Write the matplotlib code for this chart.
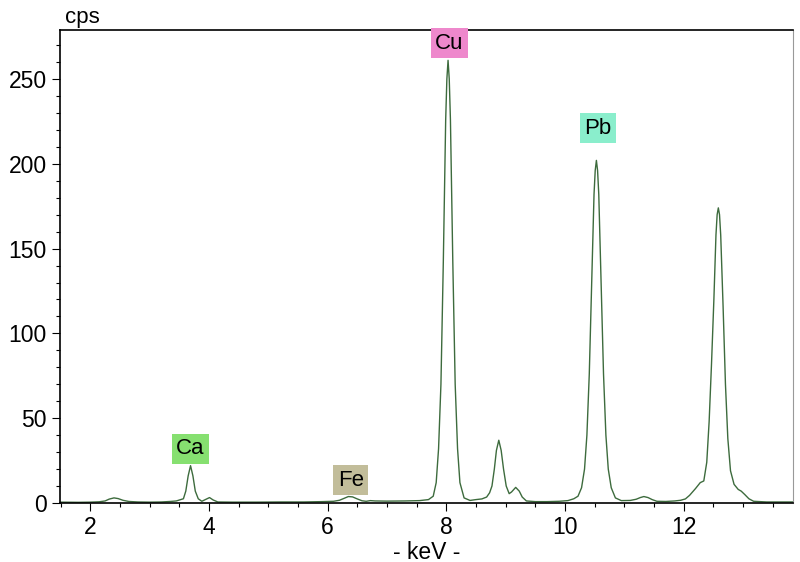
import numpy as np
import matplotlib
matplotlib.use('Agg')
import matplotlib.pyplot as plt
from matplotlib.ticker import MultipleLocator

plt.rcParams['font.family'] = ['Liberation Sans', 'DejaVu Sans']

# Spectrum (energy in keV, counts in cps)
energy = [1.5, 1.8, 2.0, 2.15, 2.25, 2.32, 2.4, 2.47, 2.55, 2.65, 2.8, 3.0, 3.2, 3.35, 3.45,
          3.57, 3.61, 3.65, 3.69, 3.73, 3.77, 3.82, 3.88, 3.95, 4.01, 4.07, 4.15, 4.4, 4.8,
          5.2, 5.6, 5.9, 6.1, 6.2, 6.28, 6.35, 6.42, 6.5, 6.58, 6.65, 6.72, 6.8, 7.0, 7.3,
          7.55, 7.7, 7.78, 7.83, 7.87, 7.91, 7.95, 7.99, 8.01, 8.03, 8.05, 8.07, 8.11, 8.15,
          8.19, 8.23, 8.3, 8.4, 8.5, 8.6, 8.68, 8.73, 8.77, 8.81, 8.845, 8.885, 8.925, 8.965,
          9.01, 9.06, 9.1, 9.17, 9.23, 9.28, 9.35, 9.5, 9.7, 9.9, 10.05, 10.15, 10.22, 10.28,
          10.33, 10.37, 10.41, 10.45, 10.49, 10.51, 10.53, 10.55, 10.57, 10.61, 10.65, 10.69,
          10.73, 10.78, 10.85, 10.95, 11.1, 11.2, 11.27, 11.33, 11.4, 11.47, 11.55, 11.7,
          11.85, 11.95, 12.03, 12.1, 12.2, 12.28, 12.34, 12.39, 12.43, 12.47, 12.51, 12.545,
          12.565, 12.585, 12.605, 12.625, 12.665, 12.705, 12.745, 12.79, 12.85, 12.92, 12.97,
          13.03, 13.1, 13.18, 13.4, 13.84]
counts = [0.5, 0.4, 0.5, 0.7, 1.2, 2.3, 3.0, 2.6, 1.6, 0.9, 0.6, 0.5, 0.6, 0.9, 1.2,
          2.5, 7, 16, 22, 16, 7, 2.5, 1.0, 2.2, 3.2, 1.8, 0.6, 0.5, 0.5,
          0.6, 0.6, 0.8, 1.0, 1.6, 2.8, 3.8, 3.6, 2.4, 1.3, 1.0, 1.4, 1.2, 1.1, 1.2,
          1.4, 2.0, 4.0, 12, 32, 70, 142, 226, 250, 261, 250, 226, 142, 70,
          32, 12, 3.0, 1.5, 2.0, 2.4, 3.5, 6, 10, 20, 31, 37, 31, 20,
          10, 5.5, 6.5, 9.2, 7, 3.5, 1.2, 0.8, 0.8, 1.0, 1.4, 2.5, 4, 9,
          20, 40, 76, 130, 182, 196, 202, 196, 182, 130, 76, 40,
          20, 9, 3, 1.4, 1.5, 2.2, 3.2, 3.8, 3.2, 2.0, 1.0, 0.9,
          1.2, 1.6, 2.4, 4.5, 8.5, 12, 13, 24, 48, 82, 120, 158,
          170, 174, 170, 158, 116, 70, 38, 19, 11, 8, 7,
          5, 2.5, 1.0, 0.6, 0.6]

# Element labels
elements = ['Ca', 'Fe', 'Cu', 'Pb']
label_x = [3.69, 6.39, 8.05, 10.55]
label_y = [32, 13.5, 271, 221]
label_colors = ['#86e070', '#c2bd9a', '#ee88cc', '#8aeecc']

fig = plt.figure(figsize=(8, 5.62), dpi=100)
ax = fig.add_axes([0.075, 0.105, 0.916, 0.842])

ax.plot(energy, counts, color='#3d6b3d', linewidth=1.0)

for name, x, y, c in zip(elements, label_x, label_y, label_colors):
    ax.text(x, y, name, ha='center', va='center', fontsize=16,
            bbox=dict(boxstyle='square,pad=0.2', facecolor=c, edgecolor='none'))

ax.set_xlim(1.49, 13.84)
ax.set_ylim(0, 279)
ax.xaxis.set_major_locator(MultipleLocator(2))
ax.xaxis.set_minor_locator(MultipleLocator(0.5))
ax.yaxis.set_major_locator(MultipleLocator(50))
ax.yaxis.set_minor_locator(MultipleLocator(10))
ax.tick_params(axis='both', which='major', labelsize=16.5, length=6, width=0.8)
ax.tick_params(axis='both', which='minor', length=3, width=0.8)

ax.spines['right'].set_color('#999999')
for s in ['left', 'bottom', 'top']:
    ax.spines[s].set_linewidth(1.2)

ax.set_xlabel('- keV -', fontsize=16.5, labelpad=1)
fig.text(0.081, 0.968, 'cps', fontsize=16, ha='left', va='center')

fig.savefig('out.png', dpi=100)
